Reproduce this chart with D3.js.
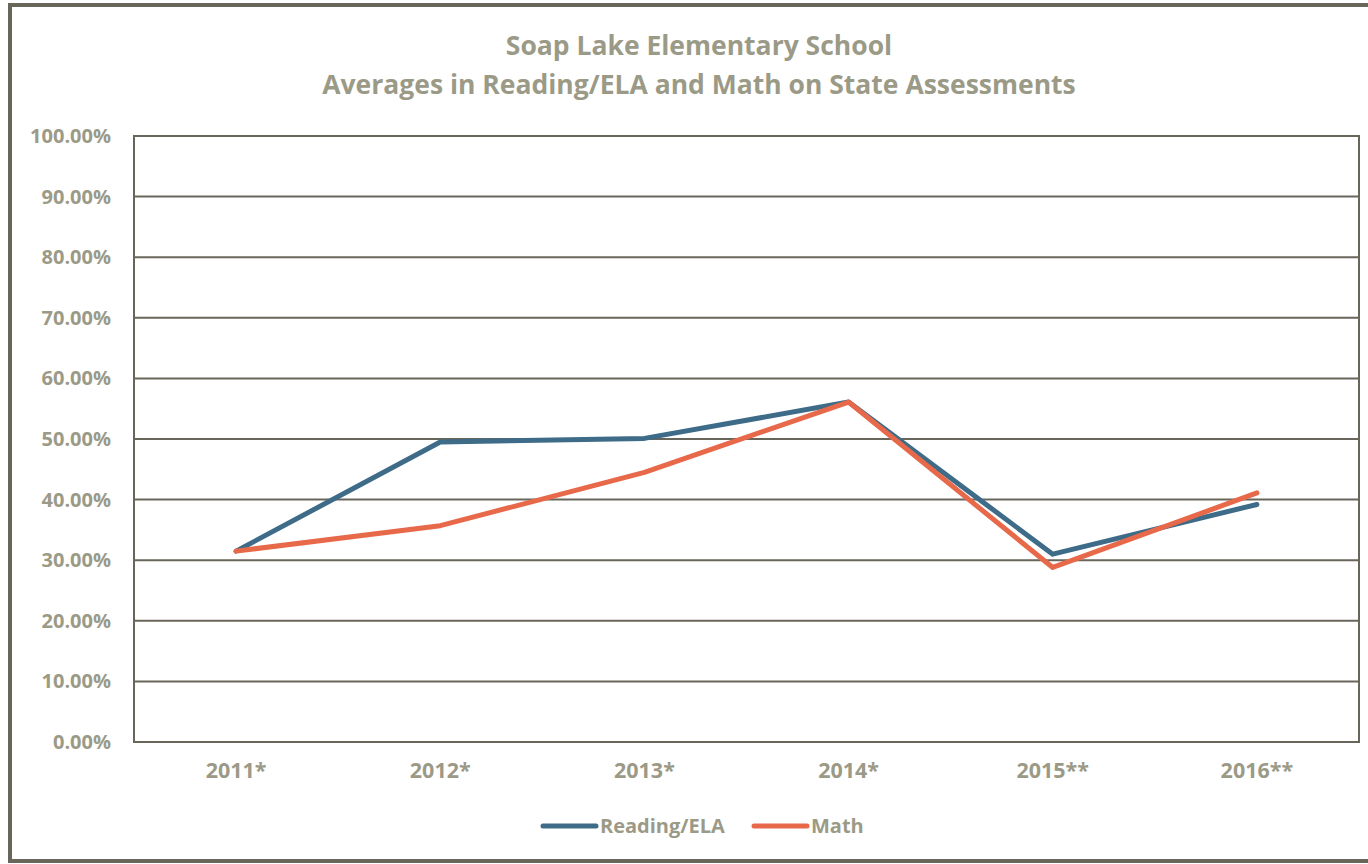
<!DOCTYPE html>
<html>
<head>
<meta charset="utf-8">
<script src="https://cdn.jsdelivr.net/npm/d3@7"></script>
<style>
  body { margin: 0; background: #fff; }
  text { font-family: "Open Sans", Lato, sans-serif; font-weight: bold; fill: #9b9a87; }
</style>
</head>
<body>
<script>
// chart data
var years = ["2011*", "2012*", "2013*", "2014*", "2015**", "2016**"];
var reading = [31.5, 49.5, 50.1, 56.1, 31.0, 39.2];
var math = [31.5, 35.7, 44.5, 56.1, 28.8, 41.1];
var seriesNames = ["Reading/ELA", "Math"];
var seriesColors = ["#3e6b88", "#e8694a"];
var yTicks = d3.range(0, 101, 10);

var W = 1368, H = 864;
var plot = {left: 134, right: 1359, top: 136, bottom: 742};

var svg = d3.select("body").append("svg")
    .attr("width", W)
    .attr("height", H);

// outer chart frame (runs off the right side, like the source)
svg.append("rect")
    .attr("x", 10).attr("y", 5)
    .attr("width", 1400).attr("height", 856)
    .attr("fill", "none")
    .attr("stroke", "#68665a")
    .attr("stroke-width", 4);

// title
var title = svg.append("text")
    .attr("text-anchor", "middle")
    .style("font-size", "26.5px");
title.append("tspan").attr("x", 699).attr("y", 55).text("Soap Lake Elementary School");
title.append("tspan").attr("x", 699).attr("y", 94).text("Averages in Reading/ELA and Math on State Assessments");

var x = d3.scaleBand().domain(years).range([plot.left, plot.right]);
var y = d3.scaleLinear().domain([0, 100]).range([plot.bottom, plot.top]);

// gridlines
svg.append("g")
  .selectAll("line")
  .data(yTicks)
  .join("line")
    .attr("x1", plot.left).attr("x2", plot.right)
    .attr("y1", function(d) { return y(d); })
    .attr("y2", function(d) { return y(d); })
    .attr("stroke", "#68665a")
    .attr("stroke-width", 2);

// plot border
svg.append("rect")
    .attr("x", plot.left).attr("y", plot.top)
    .attr("width", plot.right - plot.left)
    .attr("height", plot.bottom - plot.top)
    .attr("fill", "none")
    .attr("stroke", "#68665a")
    .attr("stroke-width", 2);

// y axis labels
svg.append("g")
  .selectAll("text")
  .data(yTicks)
  .join("text")
    .attr("x", 111)
    .attr("y", function(d) { return y(d) + 7; })
    .attr("text-anchor", "end")
    .style("font-size", "20px")
    .text(function(d) { return d.toFixed(2) + "%"; });

// x axis labels
svg.append("g")
  .selectAll("text")
  .data(years)
  .join("text")
    .attr("x", function(d) { return x(d) + x.bandwidth() / 2; })
    .attr("y", 778)
    .attr("text-anchor", "middle")
    .style("font-size", "21.5px")
    .text(function(d) { return d; });

// lines
var line = d3.line()
    .x(function(d, i) { return x(years[i]) + x.bandwidth() / 2; })
    .y(function(d) { return y(d); });

[reading, math].forEach(function(vals, i) {
  svg.append("path")
      .datum(vals)
      .attr("d", line)
      .attr("fill", "none")
      .attr("stroke", seriesColors[i])
      .attr("stroke-width", 5)
      .attr("stroke-linejoin", "round")
      .attr("stroke-linecap", "round");
});

// legend
var legendX = [543, 754];
seriesNames.forEach(function(name, i) {
  var g = svg.append("g").attr("transform", "translate(" + legendX[i] + ",826)");
  g.append("line")
      .attr("x1", 0).attr("x2", 53)
      .attr("stroke", seriesColors[i])
      .attr("stroke-width", 5)
      .attr("stroke-linecap", "round");
  g.append("text")
      .attr("x", 57).attr("y", 7)
      .style("font-size", "20px")
      .text(name);
});
</script>
</body>
</html>
